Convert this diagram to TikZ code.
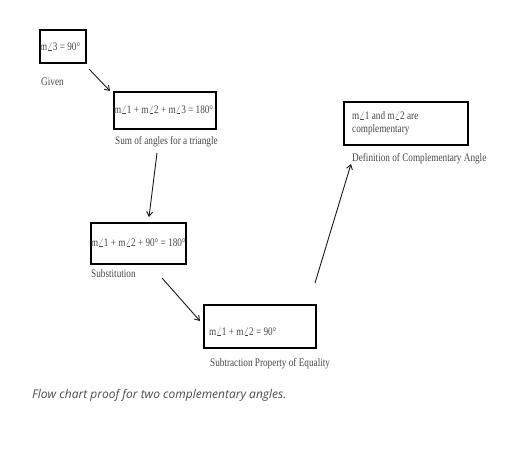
\documentclass[tikz,border=0pt]{standalone}
\usepackage{fontspec}
\setmainfont{Liberation Serif}[FakeStretch=0.8]
\newfontfamily\capfont{Open Sans}
\usetikzlibrary{arrows.meta}
\newcommand{\ang}{\scalebox{0.85}[1]{$\angle$}}
\begin{document}
\begin{tikzpicture}[x=1pt,y=-1pt,
  box/.style={draw=black, line width=1.1pt, inner sep=0pt, minimum width=#1},
  lbl/.style={anchor=west, inner sep=0pt, text=black!72, font=\fontsize{11.5}{13}\selectfont},
  arr/.style={-{Straight Barb[length=4.5pt,width=6pt]}, line width=0.9pt, black!90}]
\path[use as bounding box] (0,0) rectangle (512,472);
% boxes
\node[box=46pt, minimum height=33pt] (b1) at (63,46.5) {};
\node[box=102pt, minimum height=37pt] (b2) at (165,110.5) {};
\node[box=95pt, minimum height=41pt] (b3) at (138.5,243.5) {};
\node[box=112pt, minimum height=43pt] (b4) at (260,326.5) {};
\node[box=124pt, minimum height=43pt] (b5) at (406,123.5) {};
% statements
\node[lbl] (s1) at (40,47) {m\ang3 = 90°};
\node[lbl] (s2) at (114,110) {m\ang1 + m\ang2 + m\ang3 = 180°};
\node[lbl] (s3) at (91,243) {m\ang1 + m\ang2 + 90° = 180°};
\node[lbl] (s4) at (209,332) {m\ang1 + m\ang2 = 90°};
\node[lbl, align=left, font=\fontsize{11.5}{13.5}\selectfont] (s5) at (352,123) {m\ang1 and m\ang2 are\\complementary};
% reasons
\node[lbl] (r1) at (41,82) {Given};
\node[lbl] (r2) at (115,142) {Sum of angles for a triangle};
\node[lbl] (r3) at (91,274) {Substitution};
\node[lbl] (r4) at (210,364) {Subtraction Property of Equality};
\node[lbl] (r5) at (352,159) {Definition of Complementary Angle};
% arrow ends
\coordinate (a1s) at (89,69);  \coordinate (a1e) at (110,91);
\coordinate (a2s) at (157,153); \coordinate (a2e) at (149,217);
\coordinate (a3s) at (162,278); \coordinate (a3e) at (200,321);
\coordinate (a4s) at (315,283); \coordinate (a4e) at (351,164);
\draw[arr] (a1s) -- (a1e);
\draw[arr] (a2s) -- (a2e);
\draw[arr] (a3s) -- (a3e);
\draw[arr] (a4s) -- (a4e);
% caption
\node[anchor=west, inner sep=0pt, text=black!70, font=\capfont\itshape\fontsize{12}{14}\selectfont] (cap) at (32,395) {Flow chart proof for two complementary angles.};
\end{tikzpicture}
\end{document}
